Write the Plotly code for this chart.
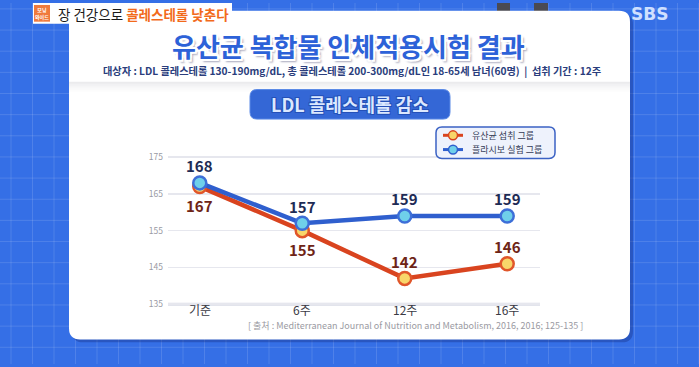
import plotly.graph_objects as go

# ---- data ----
categories = ["기준", "6주", "12주", "16주"]
probiotic = [167, 155, 142, 146]      # 유산균 섭취 그룹
placebo = [168, 157, 159, 159]        # 플라시보 실험 그룹
y_ticks = [135, 145, 155, 165, 175]
series_names = ["유산균 섭취 그룹", "플라시보 실험 그룹"]

W, H = 699, 367
FONT = "Noto Sans CJK KR"


def px(x):
    return x / W


def py(y):
    return 1 - y / H


def rrect(x0, y0, x1, y1, r):
    X0, X1 = px(x0), px(x1)
    Y0, Y1 = py(y0), py(y1)
    rx, ry = r / W, r / H
    return (f"M {X0+rx},{Y0} L {X1-rx},{Y0} Q {X1},{Y0} {X1},{Y0-ry} "
            f"L {X1},{Y1+ry} Q {X1},{Y1} {X1-rx},{Y1} L {X0+rx},{Y1} "
            f"Q {X0},{Y1} {X0},{Y1+ry} L {X0},{Y0-ry} Q {X0},{Y0} {X0+rx},{Y0} Z")


shapes = []
# background grid
for i in range(0, 40):
    gx = 11 + i * 21.5
    if gx > W:
        break
    shapes.append(dict(type="line", xref="paper", yref="paper", x0=px(gx), x1=px(gx), y0=0, y1=1,
                       line=dict(color="rgba(255,255,255,0.13)", width=1), layer="below"))
for i in range(0, 20):
    gy = 6 + i * 21.5
    if gy > H:
        break
    shapes.append(dict(type="line", xref="paper", yref="paper", x0=0, x1=1, y0=py(gy), y1=py(gy),
                       line=dict(color="rgba(255,255,255,0.13)", width=1), layer="below"))

# dark TV decoration bars
for (a, b) in [(153, 177), (192, 215), (497, 510), (534, 548)]:
    shapes.append(dict(type="rect", xref="paper", yref="paper", x0=px(a), x1=px(b), y0=py(23), y1=py(0),
                       fillcolor="#4a4a52", line=dict(width=0), layer="below"))

# panel shadow + panel
shapes.append(dict(type="path", xref="paper", yref="paper", path=rrect(72, 11, 633, 345, 11),
                   fillcolor="rgba(20,40,120,0.35)", line=dict(width=0), layer="below"))
shapes.append(dict(type="path", xref="paper", yref="paper", path=rrect(69, 8, 630, 342, 11),
                   fillcolor="#ffffff", line=dict(width=0), layer="below"))
# header separator shadow
for k, a in enumerate([0.10, 0.07, 0.05, 0.03, 0.015]):
    shapes.append(dict(type="rect", xref="paper", yref="paper", x0=px(69), x1=px(630),
                       y0=py(82 + k * 2), y1=py(80 + k * 2),
                       fillcolor=f"rgba(60,60,80,{a})", line=dict(width=0), layer="below"))

# headline bar (top-left)
shapes.append(dict(type="rect", xref="paper", yref="paper", x0=px(33), x1=px(232), y0=py(21), y1=py(0),
                   fillcolor="#ffffff", line=dict(width=0)))
shapes.append(dict(type="rect", xref="paper", yref="paper", x0=px(34), x1=px(50), y0=py(19), y1=py(2),
                   fillcolor="#f07a3c", line=dict(width=0)))

# badge
shapes.append(dict(type="path", xref="paper", yref="paper", path=rrect(250, 88, 450, 118, 7),
                   fillcolor="#3467d6", line=dict(color="#5b8ae6", width=1)))

# legend box
shapes.append(dict(type="path", xref="paper", yref="paper", path=rrect(436, 126, 555, 158, 6),
                   fillcolor="#eef2fc", line=dict(color="#3b62c4", width=1.5)))
legend_cols = [("#d9441f", "#f8d66a"), ("#2f5fce", "#6fd0ea")]
for k, (lc, mc) in enumerate(legend_cols):
    yy = 134.5 + k * 14.5
    shapes.append(dict(type="line", xref="paper", yref="paper", x0=px(443), x1=px(463), y0=py(yy), y1=py(yy),
                       line=dict(color=lc, width=3)))
    shapes.append(dict(type="circle", xref="paper", yref="paper", x0=px(448.5), x1=px(457.5),
                       y0=py(yy + 4.5), y1=py(yy - 4.5), fillcolor=mc, line=dict(color=lc, width=1.5)))

fig = go.Figure()

fig.add_trace(go.Scatter(
    x=categories, y=probiotic, mode="lines+markers", name=series_names[0],
    line=dict(color="#d9441f", width=4.5),
    marker=dict(size=13, color="#f8d66a", line=dict(color="#e0562a", width=2.5)),
    showlegend=False, hoverinfo="skip"))
fig.add_trace(go.Scatter(
    x=categories, y=placebo, mode="lines+markers", name=series_names[1],
    line=dict(color="#2f5fce", width=4.5),
    marker=dict(size=13, color="#6fd0ea", line=dict(color="#3d6fd8", width=2.5)),
    showlegend=False, hoverinfo="skip"))

annotations = []
# value labels
for c, v in zip(categories, placebo):
    annotations.append(dict(x=c, y=v, xref="x", yref="y", text=f"<b>{v}</b>", showarrow=False,
                            yshift=17, font=dict(family=FONT, size=15, color="#1e2b55")))
orange_shift = [-19, -19, 17, 17]
for c, v, s in zip(categories, probiotic, orange_shift):
    annotations.append(dict(x=c, y=v, xref="x", yref="y", text=f"<b>{v}</b>", showarrow=False,
                            yshift=s, font=dict(family=FONT, size=15, color="#6e2416")))
# category labels (x tick labels)
for c in categories:
    annotations.append(dict(x=c, y=py(312), xref="x", yref="paper", text=c, showarrow=False,
                            yanchor="middle", font=dict(family=FONT, size=12, color="#3a3a44")))

outline_w = "1px 0 0 #fff, -1px 0 0 #fff, 0 1px 0 #fff, 0 -1px 0 #fff, 1px 1px 0 #fff, -1px -1px 0 #fff, 1px -1px 0 #fff, -1px 1px 0 #fff"


def pann(x, y, text, font, xanchor="center"):
    annotations.append(dict(x=px(x), y=py(y), xref="paper", yref="paper", showarrow=False,
                            xanchor=xanchor, yanchor="middle", text=text, font=font))


# title
pann(348, 43, "<b>유산균 복합물 인체적용시험 결과</b>",
     dict(family=FONT, size=26, color="#2d62d8",
          shadow="2px 2px 0 #fff, -2px -2px 0 #fff, 2px -2px 0 #fff, -2px 2px 0 #fff, 3px 3px 2px rgba(0,0,60,0.35)"))
# subtitle
pann(352, 69, "<b>대상자 : LDL 콜레스테롤 130-190mg/dL, 총 콜레스테롤 200-300mg/dL인 18-65세 남녀(60명)  |  섭취 기간 : 12주</b>",
     dict(family=FONT, size=10.2, color="#2a3d7c", shadow=outline_w))
# badge text
pann(350, 103, "<b>LDL 콜레스테롤 감소</b>",
     dict(family=FONT, size=18, color="#dbe8ff",
          shadow="1px 1px 0 #2450b8, -1px -1px 0 #2450b8, 1px -1px 0 #2450b8, -1px 1px 0 #2450b8"))
# legend text
for k, name in enumerate(series_names):
    pann(470, 134.5 + k * 14.5, name, dict(family=FONT, size=9, color="#333a55"), xanchor="left")
# source
pann(415, 328, "[ 출처 : Mediterranean Journal of Nutrition and Metabolism, 2016, 2016; 125-135 ]",
     dict(family=FONT, size=9, color="#9a9aa2"))
# headline
pann(42, 10.5, "<b>모닝<br>와이드</b>", dict(family=FONT, size=5, color="#ffffff"))
pann(56, 11, "장 건강으로 <b><span style='color:#f26a1b'>콜레스테롤 낮춘다</span></b>",
     dict(family=FONT, size=13.5, color="#1a1a1a"), xanchor="left")
# SBS logo
pann(649, 11, "<b>SBS</b>", dict(family="DejaVu Sans", size=17, color="#cfe0ff"))

fig.update_layout(
    width=W, height=H,
    margin=dict(l=0, r=0, t=0, b=0),
    paper_bgcolor="#356fe6",
    plot_bgcolor="rgba(0,0,0,0)",
    shapes=shapes,
    annotations=annotations,
    showlegend=False,
    xaxis=dict(domain=[px(168), px(540)], range=[-0.31, 3.32], type="category",
               showgrid=False, zeroline=False, showline=False, ticks="", showticklabels=False),
    yaxis=dict(domain=[py(308), py(153)], range=[134.5, 176], tickvals=y_ticks,
               showgrid=True, gridcolor="#e6e7ee", gridwidth=1.5, zeroline=False, showline=False,
               ticks="", ticklabelstandoff=4,
               tickfont=dict(family=FONT, size=8.5, color="#9a9aa4")),
)
fig.add_shape(type="line", xref="x domain", yref="y", x0=0, x1=1, y0=135, y1=135,
              line=dict(color="#d9dbe6", width=3), layer="below")

fig.write_html("out.html", config={"displayModeBar": False, "staticPlot": True},
               post_script="document.body.style.margin='0';document.body.style.overflow='hidden';")
